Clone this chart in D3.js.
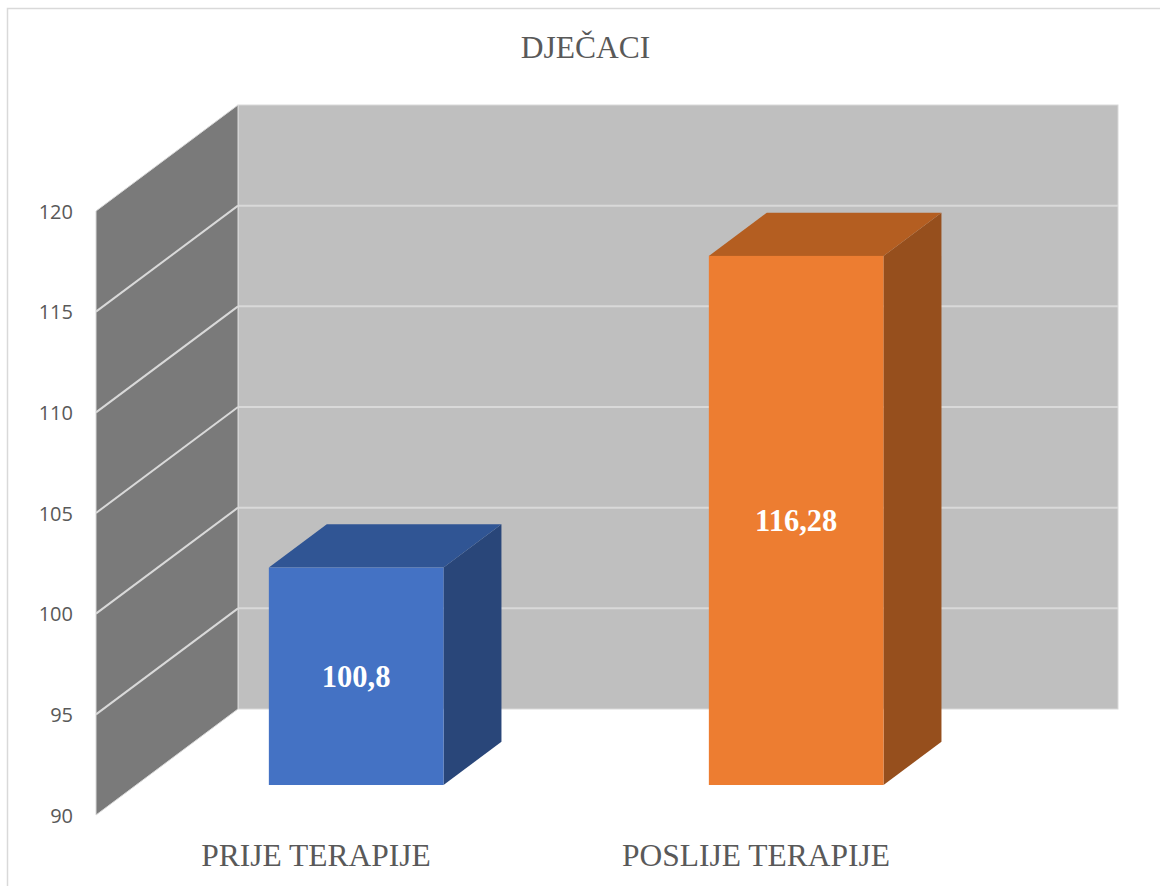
<!DOCTYPE html>
<html>
<head>
<meta charset="utf-8">
<script src="https://cdn.jsdelivr.net/npm/d3@7"></script>
<style>
  body { margin: 0; background: #fff; }
  svg { display: block; }
</style>
</head>
<body>
<svg id="chart" width="1160" height="886"></svg>
<script>
var categories = ["PRIJE TERAPIJE", "POSLIJE TERAPIJE"];
var values = [100.8, 116.28];
var valueLabels = ["100,8", "116,28"];
var frontColors = ["#4472c4", "#ed7d31"];
var topColors = ["#305594", "#b45e21"];
var sideColors = ["#294679", "#964f1d"];
var ticks = [90, 95, 100, 105, 110, 115, 120];

var svg = d3.select("#chart");

// front plane scales, depth is drawn as an oblique offset
var x = d3.scaleBand().domain(categories).range([96, 976]);
var y = d3.scaleLinear().domain([90, 120]).range([815, 211]);
var depthX = 142, depthY = -106;
var barT0 = 0.283, barT1 = 0.691;   // bar depth as a fraction of the wall depth
var barW = x.bandwidth() * 0.397;

function pt(px, py, t) { return [px + depthX * t, py + depthY * t]; }
function poly(points) { return "M" + points.map(function(p) { return p.join(","); }).join("L") + "Z"; }

// outer chart border
svg.append("rect")
    .attr("x", 7.5).attr("y", 8.5)
    .attr("width", 1170).attr("height", 900)
    .attr("fill", "none").attr("stroke", "#d9d9d9").attr("stroke-width", 1.5);

// back wall
var backLeft = pt(x.range()[0], y(120), 1),
    backRight = pt(x.range()[1], y(90), 1);
svg.append("rect")
    .attr("x", backLeft[0]).attr("y", backLeft[1])
    .attr("width", backRight[0] - backLeft[0])
    .attr("height", backRight[1] - backLeft[1])
    .attr("fill", "#bfbfbf").attr("stroke", "#d9d9d9").attr("stroke-width", 1);

svg.append("g").selectAll("line")
    .data(ticks.slice(1, -1))
    .join("line")
    .attr("x1", backLeft[0]).attr("x2", backRight[0])
    .attr("y1", function(d) { return pt(0, y(d), 1)[1]; })
    .attr("y2", function(d) { return pt(0, y(d), 1)[1]; })
    .attr("stroke", "#d9d9d9").attr("stroke-width", 2);

// side wall
var x0 = x.range()[0];
svg.append("path")
    .attr("d", poly([[x0, y(90)], [x0, y(120)], pt(x0, y(120), 1), pt(x0, y(90), 1)]))
    .attr("fill", "#7a7a7a").attr("stroke", "#d9d9d9").attr("stroke-width", 1);

svg.append("g").selectAll("line")
    .data(ticks.slice(1, -1))
    .join("line")
    .attr("x1", x0).attr("y1", function(d) { return y(d); })
    .attr("x2", x0 + depthX).attr("y2", function(d) { return y(d) + depthY; })
    .attr("stroke", "#d9d9d9").attr("stroke-width", 2);

// y tick labels
svg.append("g").selectAll("text")
    .data(ticks)
    .join("text")
    .attr("x", 73).attr("y", function(d) { return y(d) + 7.5; })
    .attr("text-anchor", "end")
    .attr("font-family", "'Open Sans', sans-serif")
    .attr("font-size", 20)
    .attr("fill", "#595959")
    .text(function(d) { return d; });

// bars
var bars = svg.append("g").selectAll("g")
    .data(categories)
    .join("g");

bars.each(function(c, i) {
  var g = d3.select(this);
  var left = x(c) + (x.bandwidth() - barW) / 2 + depthX * barT0;
  var right = left + barW;
  var top = y(values[i]) + depthY * barT0;
  var bottom = y(90) + depthY * barT0;
  var d = barT1 - barT0;

  g.append("path")
      .attr("d", poly([[right, bottom], [right, top], pt(right, top, d), pt(right, bottom, d)]))
      .attr("fill", sideColors[i]);
  g.append("path")
      .attr("d", poly([[left, top], [right, top], pt(right, top, d), pt(left, top, d)]))
      .attr("fill", topColors[i]);
  g.append("rect")
      .attr("x", left).attr("y", top)
      .attr("width", barW).attr("height", bottom - top)
      .attr("fill", frontColors[i]);
  g.append("text")
      .attr("x", (left + right) / 2)
      .attr("y", (top + bottom) / 2 + 10.5)
      .attr("text-anchor", "middle")
      .attr("font-family", "'Liberation Serif', 'Times New Roman', serif")
      .attr("font-weight", "bold")
      .attr("font-size", 30.5)
      .attr("fill", "#ffffff")
      .text(valueLabels[i]);
});

// category labels
svg.append("g").selectAll("text")
    .data(categories)
    .join("text")
    .attr("x", function(d) { return x(d) + x.bandwidth() / 2; })
    .attr("y", 866)
    .attr("text-anchor", "middle")
    .attr("font-family", "'Liberation Serif', 'Times New Roman', serif")
    .attr("font-size", 31.5)
    .attr("fill", "#595959")
    .text(function(d) { return d; });

// title
svg.append("text")
    .attr("x", 585.5).attr("y", 58)
    .attr("text-anchor", "middle")
    .attr("font-family", "'Liberation Serif', 'Times New Roman', serif")
    .attr("font-size", 31.5)
    .attr("fill", "#595959")
    .text("DJEČACI");
</script>
</body>
</html>
